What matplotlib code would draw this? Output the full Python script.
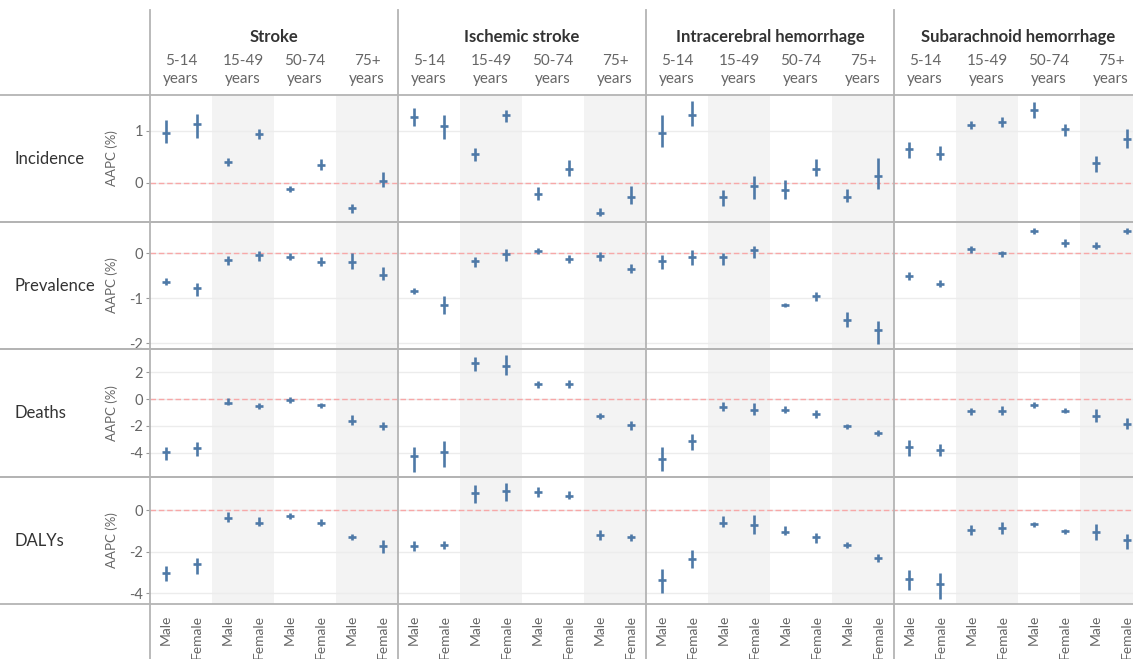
import matplotlib
matplotlib.use("Agg")
import matplotlib.pyplot as plt
import matplotlib.transforms as mtransforms
from matplotlib.lines import Line2D

plt.rcParams['font.family'] = ['Lato', 'DejaVu Sans']
plt.rcParams['axes.unicode_minus'] = False

DISEASES = ['Stroke', 'Ischemic stroke', 'Intracerebral hemorrhage', 'Subarachnoid hemorrhage']
AGES = ['5-14', '15-49', '50-74', '75+']
SEXES = ['Male', 'Female']
MEASURES = ['Incidence', 'Prevalence', 'Deaths', 'DALYs']

# values ordered disease -> age group -> sex (Male, Female)
incidence_est = [0.95, 1.13, 0.39, 0.93, -0.12, 0.34, -0.49, 0.04,
                 1.26, 1.09, 0.55, 1.30, -0.22, 0.26, -0.58, -0.27,
                 0.96, 1.30, -0.28, -0.06, -0.14, 0.26, -0.27, 0.12,
                 0.65, 0.55, 1.11, 1.16, 1.40, 1.03, 0.38, 0.84]
incidence_lo = [0.76, 0.87, 0.32, 0.84, -0.18, 0.24, -0.58, -0.09,
                1.09, 0.85, 0.42, 1.16, -0.33, 0.13, -0.65, -0.41,
                0.68, 1.09, -0.46, -0.32, -0.32, 0.13, -0.38, -0.13,
                0.48, 0.44, 1.03, 1.07, 1.25, 0.90, 0.21, 0.66]
incidence_hi = [1.21, 1.33, 0.47, 1.03, -0.06, 0.45, -0.42, 0.21,
                1.43, 1.30, 0.67, 1.40, -0.08, 0.44, -0.49, -0.06,
                1.30, 1.58, -0.15, 0.12, 0.05, 0.46, -0.13, 0.47,
                0.78, 0.71, 1.19, 1.26, 1.56, 1.13, 0.51, 1.03]

prevalence_est = [-0.63, -0.78, -0.15, -0.04, -0.08, -0.20, -0.20, -0.47,
                  -0.84, -1.16, -0.17, -0.02, 0.06, -0.13, -0.05, -0.35,
                  -0.17, -0.07, -0.07, 0.07, -1.15, -0.95, -1.48, -1.70,
                  -0.50, -0.69, 0.10, 0.00, 0.51, 0.23, 0.17, 0.49]
prevalence_lo = [-0.71, -0.95, -0.26, -0.17, -0.15, -0.29, -0.34, -0.59,
                 -0.91, -1.35, -0.30, -0.17, -0.02, -0.22, -0.17, -0.44,
                 -0.34, -0.26, -0.26, -0.11, -1.20, -1.07, -1.63, -2.02,
                 -0.60, -0.75, 0.02, -0.07, 0.43, 0.15, 0.10, 0.43]
prevalence_hi = [-0.55, -0.65, -0.05, 0.06, 0.00, -0.09, 0.00, -0.31,
                 -0.78, -0.94, -0.07, 0.10, 0.13, -0.04, 0.04, -0.24,
                 -0.04, 0.08, 0.02, 0.17, -1.10, -0.86, -1.31, -1.50,
                 -0.41, -0.60, 0.17, 0.06, 0.57, 0.32, 0.25, 0.56]

deaths_est = [-3.95, -3.65, -0.27, -0.52, -0.10, -0.45, -1.60, -2.02,
              -4.22, -3.95, 2.68, 2.43, 1.10, 1.10, -1.27, -1.95,
              -4.45, -3.15, -0.57, -0.82, -0.82, -1.10, -2.02, -2.52,
              -3.60, -3.82, -0.90, -0.90, -0.45, -0.85, -1.27, -1.82]
deaths_lo = [-4.52, -4.27, -0.47, -0.72, -0.32, -0.65, -1.90, -2.32,
             -5.45, -5.02, 2.10, 1.80, 0.85, 0.85, -1.45, -2.27,
             -5.33, -3.77, -0.85, -1.22, -1.07, -1.40, -2.22, -2.77,
             -4.20, -4.20, -1.15, -1.22, -0.65, -1.02, -1.70, -2.22]
deaths_hi = [-3.57, -3.22, 0.10, -0.27, 0.18, -0.27, -1.22, -1.72,
             -3.57, -3.15, 3.10, 3.28, 1.35, 1.40, -1.07, -1.65,
             -3.57, -2.60, -0.22, -0.32, -0.52, -0.82, -1.82, -2.32,
             -3.07, -3.32, -0.65, -0.52, -0.22, -0.65, -0.70, -1.40]

dalys_est = [-3.02, -2.59, -0.35, -0.60, -0.28, -0.60, -1.28, -1.73,
             -1.70, -1.65, 0.83, 0.91, 0.86, 0.69, -1.20, -1.28,
             -3.35, -2.35, -0.60, -0.71, -1.03, -1.28, -1.68, -2.30,
             -3.30, -3.56, -0.97, -0.84, -0.65, -1.00, -1.03, -1.44]
dalys_lo = [-3.38, -3.06, -0.55, -0.76, -0.40, -0.76, -1.44, -2.05,
            -1.94, -1.84, 0.37, 0.45, 0.62, 0.53, -1.41, -1.46,
            -4.00, -2.78, -0.81, -1.12, -1.21, -1.57, -1.81, -2.51,
            -3.83, -4.27, -1.21, -1.12, -0.79, -1.12, -1.41, -1.84]
dalys_hi = [-2.70, -2.30, -0.08, -0.32, -0.11, -0.44, -1.13, -1.44,
            -1.49, -1.49, 1.23, 1.31, 1.13, 0.91, -0.97, -1.12,
            -2.82, -1.93, -0.28, -0.23, -0.76, -1.08, -1.54, -2.09,
            -2.86, -3.02, -0.73, -0.57, -0.55, -0.89, -0.65, -1.12]

ROWS = [
    (incidence_est, incidence_lo, incidence_hi, (-0.76, 1.69), [0, 1]),
    (prevalence_est, prevalence_lo, prevalence_hi, (-2.13, 0.70), [-2, -1, 0]),
    (deaths_est, deaths_lo, deaths_hi, (-5.8, 3.73), [-4, -2, 0, 2]),
    (dalys_est, dalys_lo, dalys_hi, (-4.51, 1.60), [-4, -2, 0]),
]

BLUE = '#4e79a7'
FRAME = '#b4b4b4'
SHADE = '#f3f3f3'
GRID = '#ececec'
ZERO = '#f7a8a8'
TXT = '#666666'

W, H = 1133, 659
fig = plt.figure(figsize=(W / 100, H / 100), dpi=100)

# row extents in pixels (top, bottom), plot area from x=150 to the right edge
row_px = [(95, 222), (222, 349), (349, 477), (477, 604)]
left_px = 150
slot_px = 31.0
n_slots = len(DISEASES) * len(AGES) * len(SEXES)
xs = list(range(n_slots))
xmax = -0.5 + (W - left_px) / slot_px

axes = []
for i, (top, bot) in enumerate(row_px):
    ax = fig.add_axes([left_px / W, 1 - bot / H, (W - left_px) / W, (bot - top) / H])
    est, lo, hi, ylim, ticks = ROWS[i]

    # shaded bands for the 15-49 and 75+ age groups
    for d in range(len(DISEASES)):
        for a in (1, 3):
            s = d * 8 + a * 2
            ax.axvspan(s - 0.5, s + 1.5, color=SHADE, lw=0, zorder=0)

    ax.set_yticks(ticks)
    ax.yaxis.grid(True, color=GRID, lw=1, zorder=1)
    ax.axhline(0, color=ZERO, lw=1, ls=(0, (4, 2)), zorder=2)

    ax.vlines(xs, lo, hi, color=BLUE, lw=1.9, zorder=3)
    ax.plot(xs, est, ls='none', marker='_', ms=6, mew=1.9, color=BLUE, zorder=4)

    ax.set_xlim(-0.5, xmax)
    ax.set_ylim(*ylim)
    for sp in ax.spines.values():
        sp.set_visible(False)
    ax.tick_params(axis='y', length=3, width=0.8, color='#999999', labelcolor=TXT,
                   labelsize=10.5, pad=2)
    ax.set_ylabel('AAPC (%)', color=TXT, fontsize=9.5)
    ax.yaxis.set_label_coords((118 - left_px) / (W - left_px), 0.5)

    if i < len(row_px) - 1:
        ax.set_xticks([])
    else:
        ax.set_xticks(xs)
        ax.set_xticklabels([SEXES[k % 2] for k in xs], rotation=90, va='top',
                           ha='center', color=TXT, fontsize=10)
        ax.tick_params(axis='x', length=0, pad=8)

    fig.text(15 / W, 1 - (top + bot) / 2 / H, MEASURES[i], ha='left', va='center',
             fontsize=12, color='#333333')
    axes.append(ax)

# column headers
hdr = mtransforms.blended_transform_factory(axes[0].transData, fig.transFigure)
for d, name in enumerate(DISEASES):
    fig.text(d * 8 + 3.5, 1 - 37 / H, name, transform=hdr, ha='center', va='center',
             fontsize=12, fontweight='bold', color='#333333')
    for a, age in enumerate(AGES):
        fig.text(d * 8 + a * 2 + 0.5, 1 - 70 / H, age + '\nyears', transform=hdr,
                 ha='center', va='center', fontsize=11, color=TXT, linespacing=1.3)

# frame lines
for top, bot in row_px:
    for y in (top, bot):
        fig.add_artist(Line2D([0, 1], [1 - y / H] * 2, transform=fig.transFigure,
                              color=FRAME, lw=1.3, zorder=5))
vline = mtransforms.blended_transform_factory(axes[-1].transData, fig.transFigure)
for d in range(len(DISEASES)):
    xb = d * 8 - 0.5
    fig.add_artist(Line2D([xb, xb], [1 - 10 / H, 0], transform=vline,
                          color=FRAME, lw=1.3, zorder=5))

fig.savefig('out.png', dpi=100, facecolor='white')
